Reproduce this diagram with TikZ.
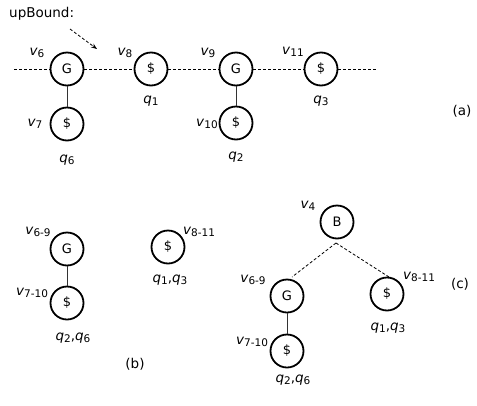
\documentclass[tikz,border=0pt]{standalone}
\usepackage{fontspec}
\setmainfont{DejaVu Sans}
\usetikzlibrary{arrows.meta}
\newcommand\vlab[1]{\textit{v}\raisebox{-0.35ex}{\fontsize{10.5}{12}\selectfont #1}}
\newcommand\qlab[1]{\textit{q}\raisebox{-0.35ex}{\fontsize{10.5}{12}\selectfont #1}}
\begin{document}
\begin{tikzpicture}[x=1pt,y=-1pt,
  vtx/.style={circle,draw,line width=1.8pt,minimum size=33pt,inner sep=0pt,font=\fontsize{13}{15}\selectfont},
  lbl/.style={inner sep=0pt,font=\fontsize{13.5}{15}\selectfont},
  dline/.style={dash pattern=on 3pt off 2pt,line width=0.8pt},
  sline/.style={line width=0.9pt,black!80}]
\useasboundingbox (0,0) rectangle (477,405);
% (a)
\node[lbl,anchor=west] (ub) at (9,14) {upBound:};
\coordinate (ua) at (70,29); \coordinate (ub2) at (97,49);
\draw[dline,-{Stealth[length=6pt,width=4.5pt]}] (ua) -- (ub2);
\coordinate (L) at (14,69); \coordinate (R) at (376,69);
\node[vtx] (g1) at (67,69) {G};
\node[vtx] (d1) at (151,69) {\$};
\node[vtx] (g2) at (236,69) {G};
\node[vtx] (d2) at (321,69) {\$};
\node[vtx] (d3) at (67,124) {\$};
\node[vtx] (d4) at (236,123) {\$};
\draw[dline] (L) -- (g1) (g1) -- (d1) (d1) -- (g2) (g2) -- (d2) (d2) -- (R);
\draw[sline] (g1) -- (d3) (g2) -- (d4);
\node[lbl] (lv6) at (37,53) {\vlab{6}};
\node[lbl] (lv8) at (125,53) {\vlab{8}};
\node[lbl] (lv9) at (208,53) {\vlab{9}};
\node[lbl] (lv11) at (293,52) {\vlab{11}};
\node[lbl] (lv7) at (35,124) {\vlab{7}};
\node[lbl] (lv10) at (207,124) {\vlab{10}};
\node[lbl] (lq6) at (67,160) {\qlab{6}};
\node[lbl] (lq1) at (151,101) {\qlab{1}};
\node[lbl] (lq2) at (236,157) {\qlab{2}};
\node[lbl] (lq3) at (321,101) {\qlab{3}};
\node[lbl] (la) at (462,111) {(a)};
% (b)
\node[vtx] (bg) at (67,249) {G};
\node[vtx] (bd) at (67,303) {\$};
\draw[sline] (bg) -- (bd);
\node[vtx] (bd2) at (168,247) {\$};
\node[lbl] (blv69) at (38,232) {\vlab{6-9}};
\node[lbl] (blv710) at (32,293) {\vlab{7-10}};
\node[lbl] (blq26) at (73,338) {\qlab{2},\qlab{6}};
\node[lbl] (blv811) at (199,232) {\vlab{8-11}};
\node[lbl] (blq13) at (170,280) {\qlab{1},\qlab{3}};
\node[lbl] (lb) at (135,364) {(b)};
% (c)
\node[vtx] (cb) at (337,222) {B};
\node[vtx] (cg) at (287,296) {G};
\node[vtx] (cd) at (387,294) {\$};
\node[vtx] (cd2) at (287,351) {\$};
\coordinate (cbb) at (336,243);
\coordinate (cgt) at (292,277);
\coordinate (cdt) at (389,277);
\draw[dline] (cbb) -- (cgt) (cbb) -- (cdt);
\draw[sline] (cg) -- (cd2);
\node[lbl] (clv4) at (308,206) {\vlab{4}};
\node[lbl] (clv69) at (253,280) {\vlab{6-9}};
\node[lbl] (clv811) at (419,277) {\vlab{8-11}};
\node[lbl] (clv710) at (252,342) {\vlab{7-10}};
\node[lbl] (clq13) at (388,328) {\qlab{1},\qlab{3}};
\node[lbl] (clq26) at (293,380) {\qlab{2},\qlab{6}};
\node[lbl] (lc) at (460,284) {(c)};
\end{tikzpicture}
\end{document}
